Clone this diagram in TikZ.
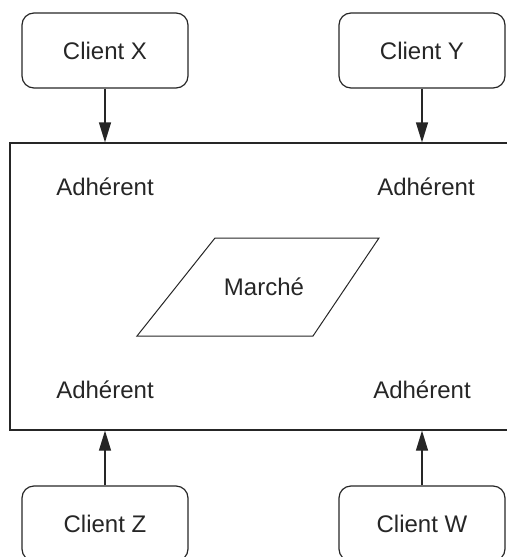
\documentclass[tikz,border=0pt]{standalone}
\usepackage{fontspec}
\setmainfont{Liberation Sans}
\usetikzlibrary{arrows.meta,positioning}
\tikzset{
    %Define standard arrow tip
    >={Triangle[length=10pt,width=6pt]},
    %Define style for boxes
    client/.style={
           rectangle,
           rounded corners=6pt,
           draw=black!85, line width=0.6pt,
           minimum width=83pt,
           minimum height=37.5pt,
           font=\fontsize{12}{14}\selectfont,
           text=black!85,
           text centered},
    bourse/.style={
           rectangle,
           draw=black!85, line width=0.6pt,
           minimum width=255pt,
           minimum height=143.5pt},
    membre/.style={
           font=\fontsize{12}{14}\selectfont,
           text=black!85},
    marche/.style={
           draw=black!85,
           line width=0.5pt},
    % Define arrow style
    pil/.style={
           ->,
           draw=black!85,
           line width=0.6pt}
}
\begin{document}
\begin{tikzpicture}[x=0.5pt,y=-0.5pt]
\useasboundingbox (0,0) rectangle (507,557);
\clip (0,0) rectangle (507,557);
\node[bourse](b) at (265,286.5){};
\node[client](cx) at (105,50.5){Client X};
\node[client](cy) at (422,50.5){Client Y};
\node[client](cz) at (105,523.5){Client Z};
\node[client](cw) at (422,523.5){Client W};
\node[membre](a1) at (105,187){Adhérent};
\node[membre](a2) at (426,187){Adhérent};
\node[membre](a3) at (105,390){Adhérent};
\node[membre](a4) at (422,390){Adhérent};
\node[membre](m) at (264,287){Marché};
\draw[marche] (215,238) -- (379,238) -- (313,336) -- (137,336) -- cycle;
\draw[pil] (cx.south) -- (cx.south |- b.north);
\draw[pil] (cy.south) -- (cy.south |- b.north);
\draw[pil] (cz.north) -- (cz.north |- b.south);
\draw[pil] (cw.north) -- (cw.north |- b.south);
\end{tikzpicture}
\end{document}
